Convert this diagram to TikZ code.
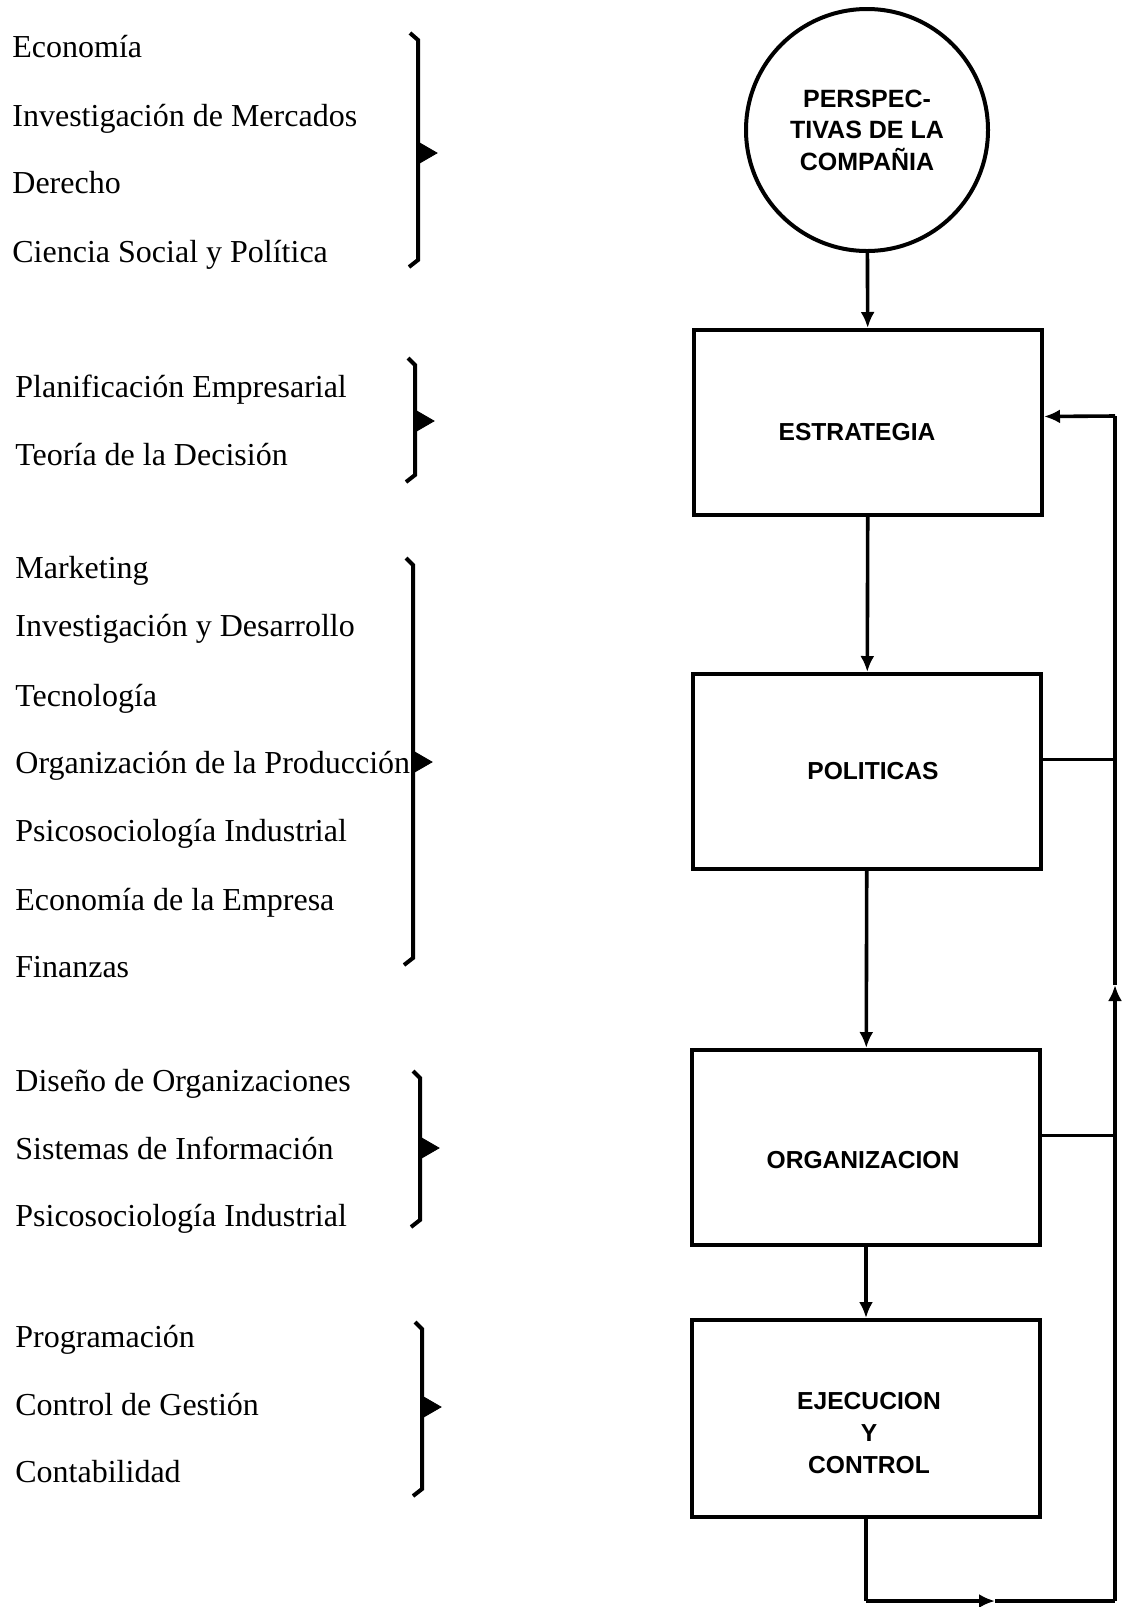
\documentclass[tikz,border=0pt]{standalone}
\usepackage{fontspec}
\setmainfont{Liberation Serif}
\setsansfont{Liberation Sans}
\usetikzlibrary{positioning,arrows.meta}

\begin{document}
\begin{tikzpicture}[x=0.5pt,y=-0.5pt,
    item/.style = {anchor=mid west, inner sep=0pt, font=\fontsize{16}{18}\selectfont},
    stage/.style = {draw, line width=2pt, minimum width=174pt},
    caption/.style = {align=center, inner sep=0pt,
                    font=\sffamily\bfseries\fontsize{12.3}{16}\selectfont},
    outlook/.style = {draw, circle, line width=2pt, minimum size=121pt, align=center,
                    font=\sffamily\bfseries\fontsize{12.5}{15.75}\selectfont},
    flow/.style = {line width=1.8pt, -{Latex[length=8pt,width=7pt]}},
    wire/.style = {line width=1.8pt},
    brace/.style = {line width=2pt},
    tip/.style = {fill=black, draw=black}]
    \useasboundingbox (0,0) rectangle (1122,1607);

    \node[item] (eco) at (12,53) {Economía};
    \node[item] (mer) at (12,122) {Investigación de Mercados};
    \node[item] (der) at (12,189) {Derecho};
    \node[item] (soc) at (12,258) {Ciencia Social y Política};

    \node[item] (pla) at (15,393) {Planificación Empresarial};
    \node[item] (dec) at (15,461) {Teoría de la Decisión};

    \node[item] (mkt) at (15,574) {Marketing};
    \node[item] (imd) at (15,632) {Investigación y Desarrollo};
    \node[item] (tec) at (15,702) {Tecnología};
    \node[item] (pro) at (15,769) {Organización de la Producción};
    \node[item] (psi) at (15,837) {Psicosociología Industrial};
    \node[item] (emp) at (15,906) {Economía de la Empresa};
    \node[item] (fin) at (15,973) {Finanzas};

    \node[item] (dis) at (15,1087) {Diseño de Organizaciones};
    \node[item] (inf) at (15,1155) {Sistemas de Información};
    \node[item] (psb) at (15,1222) {Psicosociología Industrial};

    \node[item] (prg) at (15,1343) {Programación};
    \node[item] (ges) at (15,1411) {Control de Gestión};
    \node[item] (con) at (15,1478) {Contabilidad};

    \draw[brace] (410,33) -- (418,40) -- (418,260) -- (409,267);
    \draw[tip] (418,142) -- (437,153) -- (418,164) -- cycle;
    \draw[brace] (408,358) -- (415,365) -- (415,475) -- (406,482);
    \draw[tip] (415,410) -- (434,421) -- (415,432) -- cycle;
    \draw[brace] (406,558) -- (413,565) -- (413,958) -- (404,965);
    \draw[tip] (413,751) -- (432,762) -- (413,773) -- cycle;
    \draw[brace] (413,1071) -- (420,1078) -- (420,1220) -- (411,1227);
    \draw[tip] (420,1137) -- (439,1148) -- (420,1159) -- cycle;
    \draw[brace] (415,1322) -- (422,1329) -- (422,1489) -- (413,1496);
    \draw[tip] (422,1396) -- (441,1407) -- (422,1418) -- cycle;

    \node[outlook] (persp) at (867,130) {PERSPEC-\\TIVAS DE LA\\COMPAÑIA};
    \node[stage, minimum height=92.5pt] (estr) at (868,422.5) {};
    \node[stage, minimum height=97.5pt] (poli) at (867,771.5) {};
    \node[stage, minimum height=97.5pt] (orga) at (866,1147.5) {};
    \node[stage, minimum height=98.5pt] (ejec) at (866,1418.5) {};

    \node[caption] (estrL) at ([xshift=-5.5pt,yshift=-5pt]estr.center) {ESTRATEGIA};
    \node[caption] (poliL) at ([xshift=3pt]poli.center) {POLITICAS};
    \node[caption] (orgaL) at ([xshift=-1.5pt,yshift=-6.5pt]orga.center) {ORGANIZACION};
    \node[caption] (ejecL) at ([xshift=1.5pt,yshift=-7.5pt]ejec.center) {EJECUCION\\Y\\CONTROL};

    \draw[flow] (persp) -- (estr);
    \draw[flow] (estr) -- (poli);
    \draw[flow] (poli) -- (orga);
    \draw[flow] (orga) -- (ejec);

    \coordinate (loopL) at (866,1601);
    \coordinate (loopR) at (1115,1601);
    \coordinate (loopT) at (1115,416);
    \coordinate (midB) at (995,1601);
    \coordinate (midR) at (1115,985);

    \draw[wire] (ejec.south) -- (loopL);
    \draw[flow] (loopL) -- (midB);
    \draw[wire] (midB) -- (loopR);
    \draw[flow] (loopR) -- (midR);
    \draw[wire] (midR) -- (loopT);
    \draw[flow] (loopT) -- ([yshift=3pt]estr.east);
    \draw[wire] ([yshift=6pt]poli.east) -- ([yshift=6pt]poli.east -| loopR);
    \draw[wire] ([yshift=6pt]orga.east) -- ([yshift=6pt]orga.east -| loopR);
\end{tikzpicture}
\end{document}
